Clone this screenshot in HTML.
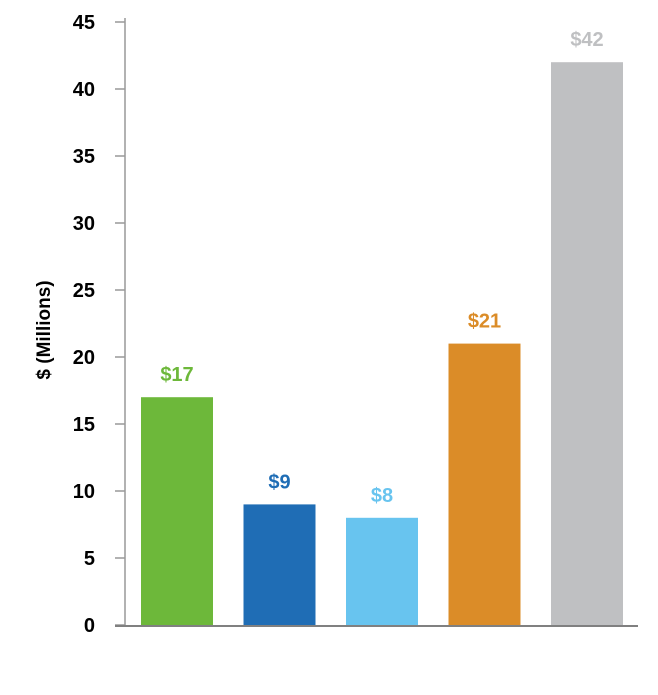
<!DOCTYPE html>
<html><head><meta charset="utf-8"><style>
body{margin:0;background:#fff;width:658px;height:690px;overflow:hidden}
svg text{font-family:"Liberation Sans",Arial,sans-serif;font-weight:bold}
</style></head><body>
<svg id="chart" width="658" height="690" xmlns="http://www.w3.org/2000/svg"></svg>
<script>
const categories=["A","B","C","D","E"];
const values=[17,9,8,21,42];
const labels=["$17","$9","$8","$21","$42"];
const colors=["#6db83a","#1f6db5","#68c4ef","#db8c28","#bfc0c2"];
const ticks=[0,5,10,15,20,25,30,35,40,45];
const svg=document.getElementById('chart');
const NS='http://www.w3.org/2000/svg';
const y0=625,y1=22,ymax=45;
const y=v=>y0-(v/ymax)*(y0-y1);
const x=i=>141+i*102.5;
const bw=72;
function mk(t,a){const e=document.createElementNS(NS,t);for(const k in a)e.setAttribute(k,a[k]);svg.appendChild(e);return e;}
ticks.forEach(t=>{
 const l=mk('line',{x1:115,x2:125,y1:y(t),y2:y(t),stroke:'#999','stroke-width':1.5});
 
 
 const tx=mk('text',{x:95,y:y(t)+7,'text-anchor':'end','font-size':20,fill:'#000'});
 tx.textContent=t;
 
 
});
values.forEach((v,i)=>{
 const r=mk('rect',{x:x(i),y:y(v),width:bw,height:y0-y(v),fill:colors[i]});
 
 
 const t=mk('text',{x:x(i)+bw/2,y:y(v)-16,'text-anchor':'middle','font-size':20,fill:colors[i]});
 t.textContent=labels[i];
 
 
});
const ya=mk('line',{x1:125,x2:125,y1:18,y2:626,stroke:'#999','stroke-width':1.5});


const xa=mk('line',{x1:115,x2:638,y1:626,y2:626,stroke:'#808080','stroke-width':2});


const yt=mk('text',{x:0,y:0,'text-anchor':'middle','font-size':19,fill:'#000',transform:'translate(50,330) rotate(-90)'});
yt.textContent='$ (Millions)';


</script>
</body></html>
